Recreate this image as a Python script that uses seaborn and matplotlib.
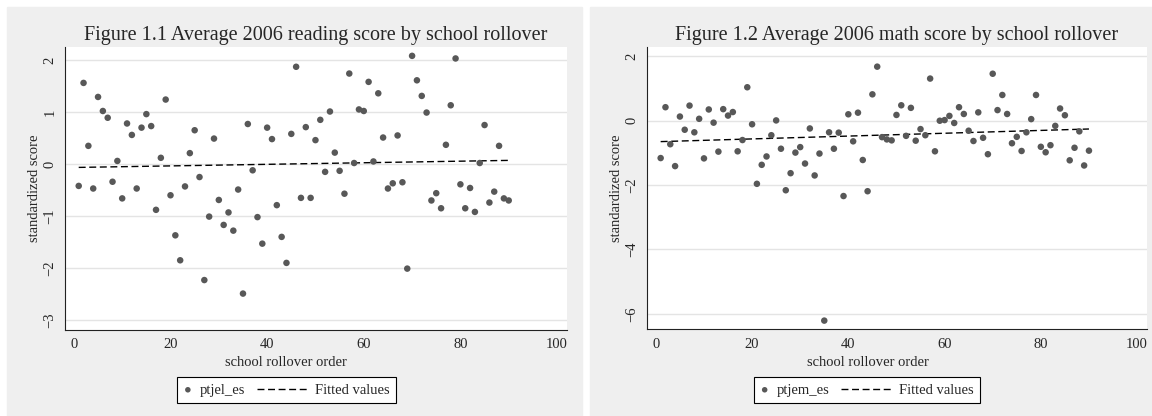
"""Stata-style scatter plots of 2006 reading and math scores by school rollover order."""

import matplotlib
import pandas as pd
import seaborn as sns

matplotlib.use("Agg")
import matplotlib.pyplot as plt
from matplotlib.collections import PathCollection
from matplotlib.legend_handler import HandlerPathCollection
from matplotlib.patches import Rectangle

# rollover order of the 90 schools
rollover_order = list(range(1, 91))

# standardized reading score
reading_score = [
    -0.42, 1.56, 0.35, -0.47, 1.29, 1.02, 0.89, -0.34, 0.06, -0.66,
    0.78, 0.56, -0.47, 0.70, 0.96, 0.73, -0.88, 0.12, 1.24, -0.60,
    -1.37, -1.85, -0.43, 0.21, 0.65, -0.25, -2.23, -1.01, 0.49, -0.69,
    -1.17, -0.93, -1.28, -0.49, -2.49, 0.77, -0.12, -1.02, -1.53, 0.70,
    0.48, -0.79, -1.40, -1.90, 0.58, 1.87, -0.65, 0.71, -0.65, 0.46,
    0.85, -0.15, 1.01, 0.22, -0.13, -0.57, 1.74, 0.02, 1.05, 1.02,
    1.58, 0.05, 1.36, 0.51, -0.47, -0.37, 0.55, -0.35, -2.01, 2.08,
    1.61, 1.31, 0.99, -0.70, -0.56, -0.85, 0.37, 1.13, 2.03, -0.39,
    -0.85, -0.46, -0.92, 0.02, 0.75, -0.74, -0.53, 0.35, -0.66, -0.70,
]

# standardized math score
math_score = [
    -1.16, 0.42, -0.73, -1.41, 0.13, -0.28, 0.47, -0.36, 0.06, -1.17,
    0.35, -0.06, -0.96, 0.36, 0.16, 0.27, -0.95, -0.60, 1.04, -0.11,
    -1.96, -1.37, -1.11, -0.45, 0.01, -0.87, -2.16, -1.63, -0.99, -0.82,
    -1.33, -0.24, -1.70, -1.02, -6.21, -0.36, -0.87, -0.37, -2.34, 0.20,
    -0.64, 0.25, -1.22, -2.19, 0.82, 1.68, -0.51, -0.58, -0.61, 0.18,
    0.48, -0.47, 0.40, -0.62, -0.26, -0.45, 1.31, -0.95, 0.00, 0.02,
    0.15, -0.07, 0.42, 0.21, -0.31, -0.63, 0.26, -0.53, -1.04, 1.46,
    0.33, 0.80, 0.21, -0.70, -0.50, -0.94, -0.36, 0.05, 0.80, -0.81,
    -0.98, -0.76, -0.16, 0.38, 0.17, -1.23, -0.84, -0.33, -1.39, -0.93,
]

x_ticks = [0, 20, 40, 60, 80, 100]
reading_ticks = [-3, -2, -1, 0, 1, 2]
math_ticks = [-6, -4, -2, 0, 2]

W, H = 1152, 416
PANEL_GRAY = "#efefef"
MARKER_GRAY = "#585858"
SERIF = ["Liberation Serif", "DejaVu Serif"]


class CompactMarkerHandler(HandlerPathCollection):
    """Legend handler that gives the scatter marker a narrow slot, Stata style."""

    def legend_artist(self, legend, orig_handle, fontsize, handlebox):
        handlebox.width = 0.55 * fontsize
        return super().legend_artist(legend, orig_handle, fontsize, handlebox)


def px_box(x0, y0, x1, y1):
    """Convert a pixel box (top-left origin) into figure fractions."""
    return [x0 / W, 1 - y1 / H, (x1 - x0) / W, (y1 - y0) / H]


def draw_panel(fig, ax, data, y_col, title, ticks, ylim, label_x, legend_x):
    sns.scatterplot(
        data=data, x="order", y=y_col, ax=ax, color=MARKER_GRAY,
        s=22, edgecolor="none", label=y_col, zorder=3,
    )
    sns.regplot(
        data=data, x="order", y=y_col, ax=ax, scatter=False, ci=None,
        truncate=True, label="Fitted values",
        line_kws={"color": "black", "lw": 1.0, "ls": (0, (5, 2.6))},
    )
    ax.set_facecolor("white")
    ax.set_xlim(-1.9, 102)
    ax.set_ylim(*ylim)
    ax.set_xticks(x_ticks)
    ax.set_yticks(ticks)
    ax.grid(axis="y", color="#e4e4e4", lw=1.0)
    ax.grid(axis="x", visible=False)
    for side in ["top", "right"]:
        ax.spines[side].set_visible(False)
    for side in ["left", "bottom"]:
        ax.spines[side].set_color("#222222")
        ax.spines[side].set_linewidth(0.8)
    ax.tick_params(axis="both", direction="out", length=4, width=0.7,
                   color="#222222", labelsize=10.5, pad=2)
    ax.tick_params(axis="y", labelrotation=90)
    for lbl in ax.get_yticklabels():
        lbl.set_verticalalignment("center")
    ax.set_title(title, fontsize=14.5, pad=5)
    ax.set_xlabel("school rollover order", fontsize=10.5)
    ax.xaxis.set_label_coords(label_x, -0.093)
    ax.set_ylabel("standardized score", fontsize=10.5, labelpad=2)
    ax.legend(
        loc="center", bbox_to_anchor=(legend_x / W, 1 - 390 / H),
        bbox_transform=fig.transFigure, ncol=2, fontsize=10.5,
        frameon=True, fancybox=False, edgecolor="black", framealpha=1,
        handlelength=3.4, handletextpad=0.55, columnspacing=0.8,
        borderpad=0.45, borderaxespad=0, markerscale=0.85,
        handler_map={PathCollection: CompactMarkerHandler()},
    )
    ax.get_legend().get_frame().set_linewidth(0.8)


def main():
    sns.set_theme(style="white")
    plt.rcParams["font.family"] = SERIF

    data = pd.DataFrame({
        "order": rollover_order,
        "ptjel_es": reading_score,
        "ptjem_es": math_score,
    })

    fig = plt.figure(figsize=(W / 100, H / 100), dpi=100, facecolor="white")
    fig.patches.append(Rectangle((7 / W, 0), (582 - 7) / W, 1 - 7 / H,
                                 transform=fig.transFigure, color=PANEL_GRAY, zorder=-10))
    fig.patches.append(Rectangle((590 / W, 0), (W - 590) / W, 1 - 7 / H,
                                 transform=fig.transFigure, color=PANEL_GRAY, zorder=-10))

    ax1 = fig.add_axes(px_box(64.7, 46.7, 566.7, 330))
    ax2 = fig.add_axes(px_box(646.7, 46.7, 1146.7, 329.3))

    draw_panel(fig, ax1, data, "ptjel_es",
               "Figure 1.1 Average 2006 reading score by school rollover",
               reading_ticks, (-3.19, 2.256), (286 - 64.7) / 502, 286.5)
    draw_panel(fig, ax2, data, "ptjem_es",
               "Figure 1.2 Average 2006 math score by school rollover",
               math_ticks, (-6.48, 2.30), (867.5 - 646.7) / 500, 867)

    fig.savefig("out.png", dpi=100)
    plt.close(fig)


if __name__ == "__main__":
    main()
